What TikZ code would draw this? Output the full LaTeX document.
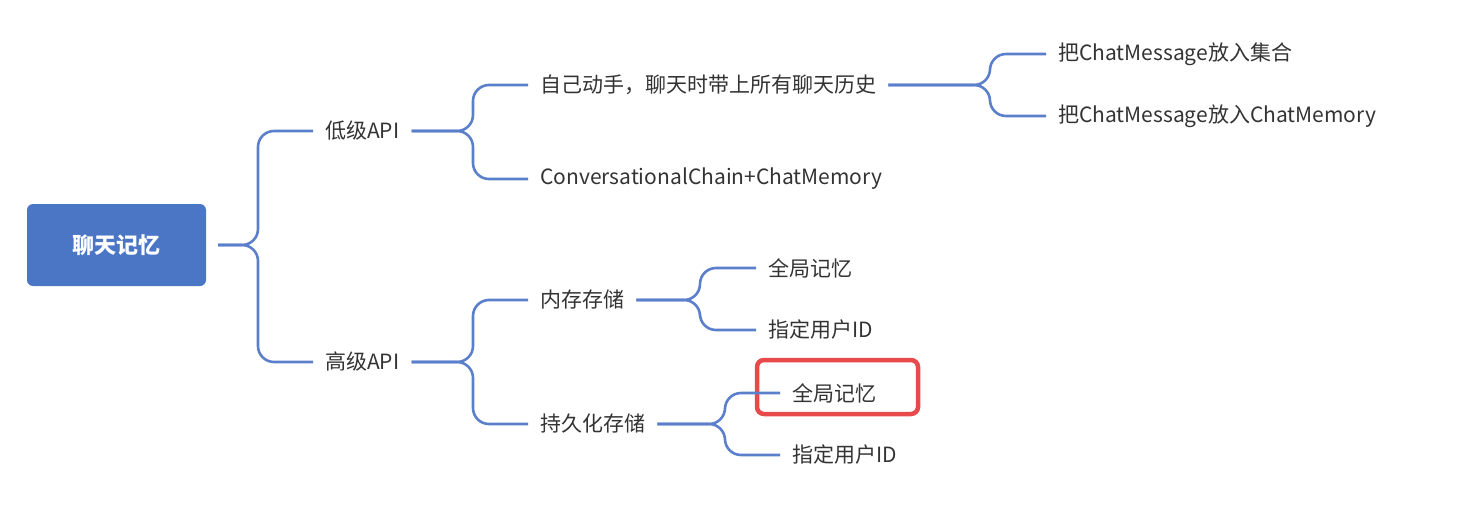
\documentclass[tikz,border=0pt]{standalone}
\usepackage{fontspec}
\setmainfont{Noto Sans CJK SC}
\begin{document}
\begin{tikzpicture}[x=1pt,y=-1pt,
  lbl/.style={anchor=west,inner sep=0pt,text=black!80,font=\fontsize{21}{25}\selectfont},
  conn/.style={draw=lineblue,line width=2.6pt,rounded corners=16pt}]
\definecolor{lineblue}{HTML}{5B7FCB}
\definecolor{rootblue}{HTML}{4B76C6}
\definecolor{redbox}{HTML}{E84A4C}
\useasboundingbox (0,0) rectangle (1462,506);
\node[fill=rootblue,rounded corners=6pt,minimum width=179pt,minimum height=82pt,text=white,font=\fontsize{22}{26}\selectfont\bfseries] (root) at (116.5,245) {聊天记忆};
\node[lbl] (low) at (325,131) {低级API};
\node[lbl] (high) at (325,362) {高级API};
\node[lbl] (self) at (540,85) {自己动手，聊天时带上所有聊天历史};
\node[lbl] (conv) at (540,179) {ConversationalChain+ChatMemory};
\node[lbl] (set) at (1058,54) {把ChatMessage放入集合};
\node[lbl] (cm) at (1058,116) {把ChatMessage放入ChatMemory};
\node[lbl] (mem) at (540,300) {内存存储};
\node[lbl] (per) at (540,424) {持久化存储};
\node[lbl] (mg) at (768,268) {全局记忆};
\node[lbl] (mu) at (768,330) {指定用户ID};
\node[lbl] (pg) at (792,393) {全局记忆};
\node[lbl] (pu) at (792,455) {指定用户ID};
\draw[draw=redbox,line width=4.5pt,rounded corners=7pt] (757,360) rectangle (918,414);
\foreach \p/\c/\bx in {root/low/258,root/high/258,low/self/473,low/conv/473,high/mem/473,high/per/473,self/set/990,self/cm/990,mem/mg/700,mem/mu/700,per/pg/725,per/pu/725}{
  \draw[conn] (\p.east) ++(12,0) -- (\bx,0 |- \p.east) |- ([xshift=-12pt]\c.west);
}
\end{tikzpicture}
\end{document}
